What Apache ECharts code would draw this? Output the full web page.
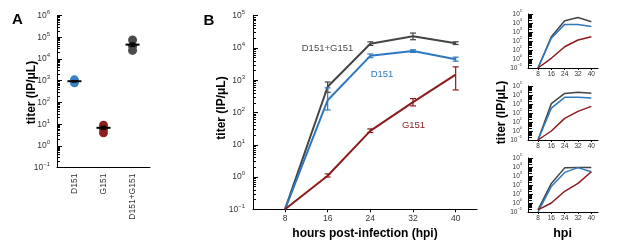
<!DOCTYPE html>
<html><head><meta charset="utf-8">
<script src="https://cdn.jsdelivr.net/npm/echarts@6/dist/echarts.min.js"></script>
<style>html,body{margin:0;padding:0;background:#fff}#c{width:617px;height:247px}</style>
</head><body><div id="c"></div>
<script>
// ---------------- data ----------------
const categoriesA = ['D151', 'G151', 'D151+G151'];
const dotsD151 = [1100, 950, 800];
const dotsG151 = [9, 6, 4];
const dotsBoth = [75000, 40000, 25000];
const meansA = [950, 6.8, 46000];
const meanLowA = [880, 5.8, 38000];
const meanHighA = [1020, 8, 55000];

const hpi = [8, 16, 24, 32, 40];
const bBoth = [0.1, 630, 13500, 23000, 14000];
const bBothLow = [null, 420, 12000, 18000, 12800];
const bBothHigh = [null, 880, 15500, 29000, 15500];
const bD151 = [0.1, 240, 5700, 8000, 4500];
const bD151Low = [null, 120, 5000, 7300, 3900];
const bD151High = [null, 580, 6500, 8800, 5200];
const bG151 = [0.1, 1.1, 27, 210, 1500];
const bG151Low = [null, 1.0, 24, 160, 500];
const bG151High = [null, 1.25, 31, 270, 2600];

const r1Both = [0.1, 300, 18000, 40000, 14000];
const r1D151 = [0.1, 200, 7000, 7000, 4000];
const r1G151 = [0.1, 1.2, 23, 130, 300];
const r2Both = [0.1, 1100, 15000, 20000, 16000];
const r2D151 = [0.1, 350, 5500, 5500, 4500];
const r2G151 = [0.1, 1, 25, 150, 550];
const r3Both = [0.17, 150, 8000, 9000, 9000];
const r3D151 = [0.1, 70, 2500, 8500, 3000];
const r3G151 = [0.17, 1, 20, 150, 3000];

const hpiTicks = [8, 16, 24, 32, 40];
const catTicks = [1, 2, 3];

// ---------------- styling ----------------
const BLUE = '#2f78bf', RED = '#8c1c1c', GRAY = '#454545';
const FONT = 'Liberation Sans, Arial, sans-serif';
const TXT = '#333';

function expLabel(v) {
  const e = Math.round(Math.log10(v));
  return '{b|10}{s|' + (e < 0 ? '\u2212' + (-e) : e) + '}';
}

const grids = [
  { left: 57, top: 15.6, width: 93, height: 152 },
  { left: 253, top: 15.7, width: 224, height: 193.6 },
  { left: 528, top: 14, width: 70, height: 54 },
  { left: 528, top: 86, width: 70, height: 54 },
  { left: 528, top: 158, width: 70, height: 54 }
];

function yAxisFor(g, max, fs, margin, inLen, minLen) {
  return {
    type: 'log', gridIndex: g, min: 0.1, max: max,
    axisLine: { show: true, lineStyle: { color: '#000' } },
    axisTick: { show: true, inside: true, length: inLen, lineStyle: { color: '#000' } },
    minorTick: { show: true, splitNumber: 9, length: minLen, lineStyle: { color: '#000' } },
    splitLine: { show: false },
    axisLabel: { formatter: expLabel, margin: margin,
      rich: {
        b: { fontSize: fs, lineHeight: fs + 4, color: TXT, fontFamily: FONT },
        s: { fontSize: Math.round(fs * 0.68), lineHeight: Math.round(fs * 0.7), verticalAlign: 'top', color: TXT, fontFamily: FONT }
      } }
  };
}

const yAxis = [
  yAxisFor(0, 1e6, 8.5, 7, 5, 3),
  yAxisFor(1, 1e5, 8.5, 8, 5, 3),
  yAxisFor(2, 1e5, 6.5, 6, 5, 4),
  yAxisFor(3, 1e5, 6.5, 6, 5, 4),
  yAxisFor(4, 1e5, 6.5, 6, 5, 4)
];

const xAxis = [
  { type: 'value', gridIndex: 0, min: 0.4, max: 3.6, splitLine: { show: false },
    axisLine: { onZero: false, lineStyle: { color: '#000' } }, axisTick: { show: false },
    axisLabel: { customValues: catTicks, rotate: 90, margin: 6, fontSize: 8.5, color: TXT, fontFamily: FONT,
      formatter: v => categoriesA[Math.round(v) - 1] } }
];
[1, 2, 3, 4].forEach(g => {
  const small = g > 1;
  xAxis.push({ type: 'value', gridIndex: g, min: 2, max: 44, splitLine: { show: false },
    axisLine: { onZero: false, lineStyle: { color: '#000' } },
    axisTick: { show: true, customValues: hpiTicks, length: small ? 2 : 3, lineStyle: { color: '#000' } },
    axisLabel: { customValues: hpiTicks, margin: small ? 3 : 5, fontSize: small ? 6.5 : 8.5, color: TXT, fontFamily: FONT } });
});

function errRender(color, cap, lw) {
  return function (params, api) {
    const x = api.value(0);
    const p1 = api.coord([x, api.value(1)]);
    const p2 = api.coord([x, api.value(2)]);
    const style = { stroke: color, lineWidth: lw };
    return { type: 'group', children: [
      { type: 'line', shape: { x1: p1[0], y1: p1[1], x2: p2[0], y2: p2[1] }, style: style },
      { type: 'line', shape: { x1: p1[0] - cap, y1: p1[1], x2: p1[0] + cap, y2: p1[1] }, style: style },
      { type: 'line', shape: { x1: p2[0] - cap, y1: p2[1], x2: p2[0] + cap, y2: p2[1] }, style: style }
    ] };
  };
}

function errData(lo, hi) {
  const out = [];
  hpi.forEach((h, i) => { if (lo[i] != null) out.push([h, lo[i], hi[i]]); });
  return out;
}

function meanRender(params, api) {
  const x = api.value(0);
  const c = api.coord([x, api.value(1)]);
  const lo = api.coord([x, api.value(2)]);
  const hi = api.coord([x, api.value(3)]);
  const s = { stroke: '#000', lineWidth: 1.2 };
  return { type: 'group', children: [
    { type: 'line', shape: { x1: c[0] - 7, y1: c[1], x2: c[0] + 7, y2: c[1] }, style: { stroke: '#000', lineWidth: 2 } },
    { type: 'line', shape: { x1: lo[0], y1: lo[1], x2: hi[0], y2: hi[1] }, style: s },
    { type: 'line', shape: { x1: lo[0] - 2.5, y1: lo[1], x2: lo[0] + 2.5, y2: lo[1] }, style: s },
    { type: 'line', shape: { x1: hi[0] - 2.5, y1: hi[1], x2: hi[0] + 2.5, y2: hi[1] }, style: s }
  ] };
}

function lineSeries(g, vals, color, width) {
  return { type: 'line', xAxisIndex: g, yAxisIndex: g, data: hpi.map((h, i) => [h, vals[i]]),
    symbol: 'none', lineStyle: { color: color, width: width }, itemStyle: { color: color }, silent: true, z: 3 };
}

function dots(x, vals, color) {
  return { type: 'scatter', xAxisIndex: 0, yAxisIndex: 0, data: vals.map(v => [x, v]),
    symbol: 'circle', symbolSize: 9, itemStyle: { color: color, opacity: 1 }, z: 2 };
}

const series = [
  dots(1, dotsD151, '#3a80c4'),
  dots(2, dotsG151, '#8e1f1f'),
  dots(3, dotsBoth, '#4a4a4a'),
  { type: 'custom', xAxisIndex: 0, yAxisIndex: 0, renderItem: meanRender, z: 4,
    data: meansA.map((m, i) => [catTicks[i], m, meanLowA[i], meanHighA[i]]), encode: { x: 0, y: [1, 2, 3] } },

  lineSeries(1, bBoth, GRAY, 2),
  lineSeries(1, bD151, BLUE, 2),
  lineSeries(1, bG151, RED, 2),
  { type: 'custom', xAxisIndex: 1, yAxisIndex: 1, renderItem: errRender(GRAY, 3, 1.2), data: errData(bBothLow, bBothHigh), encode: { x: 0, y: [1, 2] }, z: 4 },
  { type: 'custom', xAxisIndex: 1, yAxisIndex: 1, renderItem: errRender(BLUE, 3, 1.2), data: errData(bD151Low, bD151High), encode: { x: 0, y: [1, 2] }, z: 4 },
  { type: 'custom', xAxisIndex: 1, yAxisIndex: 1, renderItem: errRender(RED, 3, 1.2), data: errData(bG151Low, bG151High), encode: { x: 0, y: [1, 2] }, z: 4 },

  lineSeries(2, r1Both, GRAY, 1.5), lineSeries(2, r1D151, BLUE, 1.5), lineSeries(2, r1G151, RED, 1.5),
  lineSeries(3, r2Both, GRAY, 1.5), lineSeries(3, r2D151, BLUE, 1.5), lineSeries(3, r2G151, RED, 1.5),
  lineSeries(4, r3Both, GRAY, 1.5), lineSeries(4, r3D151, BLUE, 1.5), lineSeries(4, r3G151, RED, 1.5)
];

function txt(text, x, y, font, color, rot) {
  return { type: 'text', x: x, y: y, rotation: rot || 0, silent: true,
    style: { text: text, font: font, fill: color || '#000', align: 'center', verticalAlign: 'middle' } };
}
const BOLD12 = 'bold 12px ' + FONT;
const graphic = [
  txt('A', 17.5, 20, 'bold 15px ' + FONT),
  txt('B', 209, 20.5, 'bold 15px ' + FONT),
  txt('titer (IP/\u03bcL)', 31.5, 92.5, BOLD12, '#000', Math.PI / 2),
  txt('titer (IP/\u03bcL)', 221.5, 108, BOLD12, '#000', Math.PI / 2),
  txt('titer (IP/\u03bcL)', 501.5, 112.5, BOLD12, '#000', Math.PI / 2),
  txt('hours post-infection (hpi)', 365, 234, BOLD12),
  txt('hpi', 562.5, 233.5, 'bold 12.5px ' + FONT),
  txt('D151+G151', 327.5, 48.5, '9.5px ' + FONT, '#4a4a4a'),
  txt('D151', 382, 74, '9.5px ' + FONT, BLUE),
  txt('G151', 413.5, 125.5, '9.5px ' + FONT, RED)
];

const chart = echarts.init(document.getElementById('c'), null, { renderer: 'canvas' });
chart.setOption({
  animation: false,
  backgroundColor: '#fff',
  grid: grids,
  xAxis: xAxis,
  yAxis: yAxis,
  series: series,
  graphic: graphic
});
</script>
</body></html>
